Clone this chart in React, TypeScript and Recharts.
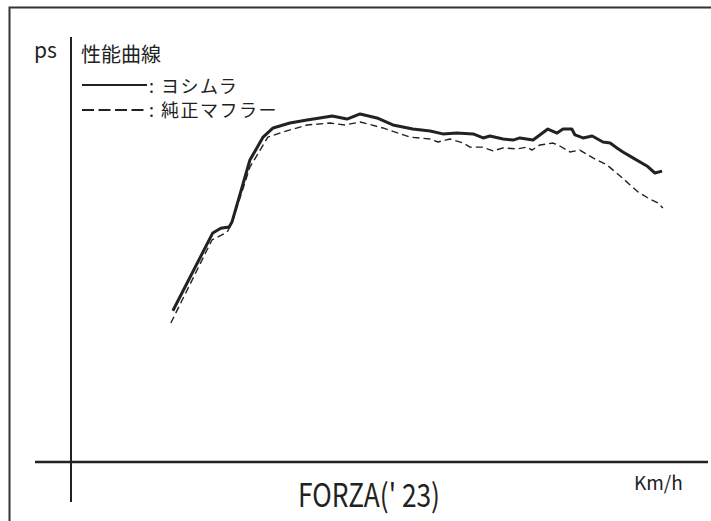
import { LineChart, Line, XAxis, YAxis } from "recharts"

// speed (km/h) / power (ps)
const yoshimuraSpeed = [25.5, 35.5, 37.5, 39.6, 40.3, 44.8, 46.5, 48.1, 50.6, 54.8, 59.1, 62.3, 65.4, 69.1, 72.4, 76.6, 80.6, 85.6, 89.9, 93.1, 96.6, 100.7, 103.2, 104.9, 108.2, 110.7, 112.4, 115.7, 119.4, 121.7, 123.2, 125.4, 126.2, 128.2, 130.5, 133.2, 135.0, 136.7, 138.2, 140.7, 144.2, 146.2, 148.0]
const yoshimuraPs = [7.12, 10.78, 11.0, 11.06, 11.29, 14.21, 14.76, 15.29, 15.72, 15.95, 16.09, 16.19, 16.28, 16.14, 16.38, 16.19, 15.86, 15.67, 15.58, 15.44, 15.48, 15.44, 15.25, 15.34, 15.2, 15.15, 15.25, 15.15, 15.67, 15.48, 15.67, 15.67, 15.39, 15.25, 15.34, 15.06, 15.01, 14.78, 14.59, 14.31, 13.93, 13.6, 13.69]

const stockSpeed = [25.0, 35.3, 39.1, 40.3, 44.8, 49.3, 53.1, 59.1, 64.9, 68.6, 72.4, 78.1, 84.9, 89.9, 91.9, 94.9, 98.2, 99.9, 102.9, 105.7, 108.2, 111.7, 114.2, 115.4, 117.4, 120.7, 122.4, 124.9, 127.4, 130.7, 134.2, 137.5, 140.0, 142.0, 144.5, 147.0, 148.2]
const stockPs = [6.54, 10.45, 10.82, 11.25, 13.88, 15.29, 15.53, 15.86, 15.95, 15.86, 16.0, 15.72, 15.29, 15.2, 15.06, 15.2, 15.01, 14.82, 14.82, 14.64, 14.78, 14.73, 14.82, 14.68, 14.92, 15.01, 14.87, 14.59, 14.68, 14.31, 13.98, 13.46, 13.04, 12.71, 12.42, 12.19, 11.95]

const xDomain = [0, 160]
const yDomain = [0, 20]

const yoshimura = yoshimuraSpeed.map((s, i) => ({ speed: s, ps: yoshimuraPs[i] }))
const stock = stockSpeed.map((s, i) => ({ speed: s, ps: stockPs[i] }))

const INK = "#222"
const JP = "'Noto Sans CJK JP', 'Noto Sans', sans-serif"

export default function App() {
  return (
    <div style={{ position: "absolute", left: 0, top: 0, width: 711, height: 521, background: "#fff", overflow: "hidden" }}>
      <LineChart width={711} height={521} margin={{ top: 37, right: 1, bottom: 59, left: 71 }}>
        <XAxis type="number" dataKey="speed" domain={xDomain} hide />
        <YAxis type="number" dataKey="ps" domain={yDomain} hide />
        <Line
          data={stock}
          dataKey="ps"
          type="linear"
          stroke={INK}
          strokeWidth={1.4}
          strokeDasharray="7 4"
          strokeLinejoin="round"
          dot={false}
          isAnimationActive={false}
        />
        <Line
          data={yoshimura}
          dataKey="ps"
          type="linear"
          stroke={INK}
          strokeWidth={3}
          strokeLinejoin="round"
          dot={false}
          isAnimationActive={false}
        />
      </LineChart>

      <svg width={711} height={521} style={{ position: "absolute", left: 0, top: 0, pointerEvents: "none" }}>
        {/* frame */}
        <rect x={9.5} y={7.5} width={720} height={540} fill="none" stroke="#333" strokeWidth={2} />
        {/* axes */}
        <line x1={71} y1={37} x2={71} y2={502} stroke={INK} strokeWidth={2} />
        <line x1={35} y1={462} x2={708} y2={462} stroke={INK} strokeWidth={2.5} />

        <text x={34} y={58} fontFamily={JP} fontSize={21} fill={INK}>ps</text>
        <text x={81} y={62} fontFamily={JP} fontSize={20} fill={INK}>性能曲線</text>

        <line x1={82} y1={85} x2={147} y2={85} stroke={INK} strokeWidth={2.2} />
        <text x={149} y={93} fontFamily={JP} fontSize={18} fill={INK} letterSpacing={1.5}>: ヨシムラ</text>

        <line x1={82} y1={110} x2={148} y2={110} stroke={INK} strokeWidth={2.2} strokeDasharray="12 4.5" />
        <text x={149} y={117} fontFamily={JP} fontSize={18} fill={INK} letterSpacing={1.5}>: 純正マフラー</text>

        <text x={298} y={507} fontFamily={JP} fontSize={32} fill={INK} textLength={142} lengthAdjust="spacingAndGlyphs">FORZA(' 23)</text>
        <text x={634} y={490} fontFamily={JP} fontSize={19} fill={INK}>Km/h</text>
      </svg>
    </div>
  )
}
